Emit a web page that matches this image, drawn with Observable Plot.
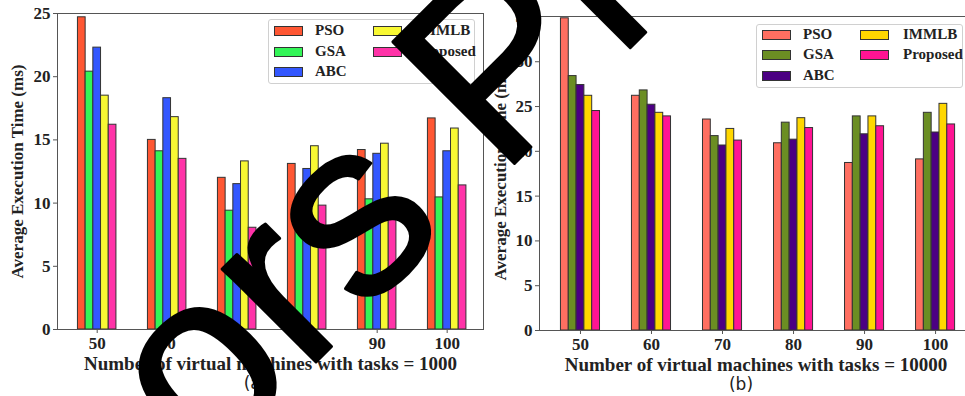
<!DOCTYPE html>
<html><head><meta charset="utf-8">
<script src="https://cdn.jsdelivr.net/npm/d3@7"></script>
<script src="https://cdn.jsdelivr.net/npm/@observablehq/plot@0.6"></script>
<style>
body{margin:0;background:#fff;}
#wrap{position:relative;width:965px;height:396px;overflow:hidden;font-family:"Liberation Serif","Times New Roman",serif;}
.panel{position:absolute;top:0;}
.legend{position:absolute;border:1px solid #d0d0d0;border-radius:3px;background:rgba(255,255,255,0.85);box-sizing:border-box;}
.sw{position:absolute;width:29px;height:10px;border:1px solid #333;box-sizing:border-box;}
.lt{position:absolute;font-weight:bold;font-size:15px;line-height:15px;color:#222;white-space:nowrap;}
#wm{position:absolute;left:0;top:0;pointer-events:none;}
</style>
</head><body>
<div id="wrap"></div>
<script>
// ---- data ----
const vms = [50, 60, 70, 80, 90, 100];
const algorithms = ["PSO", "GSA", "ABC", "IMMLB", "Proposed"];
// (a) tasks = 1000
const a_PSO = [24.7, 15.0, 12.0, 13.1, 14.2, 16.7];
const a_GSA = [20.4, 14.1, 9.4, 9.2, 10.3, 10.45];
const a_ABC = [22.3, 18.3, 11.5, 12.7, 13.9, 14.1];
const a_IMMLB = [18.5, 16.8, 13.3, 14.5, 14.7, 15.9];
const a_Proposed = [16.2, 13.5, 8.05, 9.8, 10.15, 11.4];
// (b) tasks = 10000
const b_PSO = [34.85, 26.2, 23.55, 20.9, 18.7, 19.1];
const b_GSA = [28.4, 26.8, 21.7, 23.2, 23.9, 24.3];
const b_ABC = [27.4, 25.2, 20.65, 21.3, 21.9, 22.1];
const b_IMMLB = [26.2, 24.3, 22.5, 23.7, 23.9, 25.3];
const b_Proposed = [24.5, 23.9, 21.2, 22.6, 22.8, 23.0];
const colorsA = ["#FF5733", "#33F557", "#3357FF", "#F8F833", "#FF33A8"];
const colorsB = ["#FF6F61", "#6B8E23", "#4B0082", "#FFD700", "#FF1493"];
const yTicksA = [0, 5, 10, 15, 20, 25];
const yTicksB = [0, 5, 10, 15, 20, 25, 30, 35];
const yTitle = "Average Execution Time (ms)";
const xTitleA = "Number of virtual machines with tasks = 1000";
const xTitleB = "Number of virtual machines with tasks = 10000";
const capA = "(a)", capB = "(b)";
const watermark = "Authors Preprint";

const wrap = document.getElementById("wrap");
const barW = 1.1;

function panel(series, colors, cfg) {
  const rows = [];
  vms.forEach((v, i) => algorithms.forEach((alg, j) => rows.push({vm: v, alg, j, value: series[j][i]})));
  const chart = Plot.plot({
    width: cfg.width, height: 396,
    marginLeft: cfg.ml, marginRight: cfg.mr, marginTop: cfg.mt, marginBottom: 396 - cfg.bottom,
    x: {domain: cfg.xdom, label: null},
    y: {domain: cfg.ydom, label: null},
    color: {domain: algorithms, range: colors},
    style: {fontFamily: '"Liberation Serif","Times New Roman",serif', fontWeight: "bold", fontSize: "17px", color: "#222", background: "transparent", overflow: "visible"},
    marks: [
      Plot.rect(rows, {x1: d => d.vm + (d.j - 2.5) * barW, x2: d => d.vm + (d.j - 1.5) * barW, y1: d => 0, y2: "value", fill: "alg", stroke: "#333", strokeWidth: 1}),
      Plot.frame({stroke: "#555"}),
      Plot.axisX({ticks: vms, tickFormat: d => String(d), tickSize: 4, tickPadding: 3, stroke: "#555"}),
      Plot.axisY({ticks: cfg.yticks, tickFormat: d => String(d), tickSize: 4, tickPadding: 3, stroke: "#555"}),
      Plot.text([cfg.xTitle], {frameAnchor: "bottom", textAnchor: "middle", lineAnchor: "middle", dy: 34, fontSize: 19, fill: "#222"}),
      Plot.text([yTitle], {frameAnchor: "left", textAnchor: "middle", lineAnchor: "middle", rotate: -90, dx: cfg.ytdx, fontSize: 17, fill: "#222"}),
      Plot.text([cfg.cap], {frameAnchor: "bottom", textAnchor: "middle", lineAnchor: "middle", dy: 54, dx: -15, fontSize: 17, fontWeight: "normal", fontFamily: '"DejaVu Sans",sans-serif', fill: "#222"})
    ]
  });
  chart.classList.add("panel");
  chart.style.left = cfg.left + "px";
  wrap.appendChild(chart);
}

panel([a_PSO, a_GSA, a_ABC, a_IMMLB, a_Proposed], colorsA,
  {left: 0, width: 490, ml: 57, mr: 7, mt: 13, bottom: 329, xdom: [44.33, 105.19], ydom: [0, 25], yticks: yTicksA, xTitle: xTitleA, cap: capA, ytdx: -40});
panel([b_PSO, b_GSA, b_ABC, b_IMMLB, b_Proposed], colorsB,
  {left: 480, width: 500, ml: 59, mr: 8, mt: 16, bottom: 330, xdom: [44.23, 105.2], ydom: [0, 35.05], yticks: yTicksB, xTitle: xTitleB, cap: capB, ytdx: -39});

function legend(colors, box, pos) {
  const lg = document.createElement("div");
  lg.className = "legend";
  Object.assign(lg.style, {left: box[0] + "px", top: box[1] + "px", width: box[2] + "px", height: box[3] + "px"});
  algorithms.forEach((alg, k) => {
    const col = k < 3 ? 0 : 1, row = k < 3 ? k : k - 3;
    const sw = document.createElement("div");
    sw.className = "sw";
    sw.style.background = colors[k];
    sw.style.left = pos.sw[col] + "px";
    sw.style.top = (pos.rows[row] - 5) + "px";
    const t = document.createElement("div");
    t.className = "lt";
    t.textContent = alg;
    t.style.left = pos.tx[col] + "px";
    t.style.top = (pos.rows[row] - 8) + "px";
    lg.appendChild(sw); lg.appendChild(t);
  });
  wrap.appendChild(lg);
}
legend(colorsA, [268, 19, 207, 65], {sw: [5, 104], tx: [46, 147], rows: [11, 31.5, 52]});
legend(colorsB, [756, 24, 207, 64], {sw: [5, 103], tx: [46, 146], rows: [10, 30, 51]});

// watermark overlay
const NS = "http://www.w3.org/2000/svg";
const wm = document.createElementNS(NS, "svg");
wm.setAttribute("id", "wm"); wm.setAttribute("width", 965); wm.setAttribute("height", 396);
const t = document.createElementNS(NS, "text");
t.setAttribute("font-family", '"Liberation Sans",Arial,sans-serif');
t.setAttribute("font-size", 250);
t.setAttribute("fill", "#000");
t.setAttribute("stroke", "#000");
t.setAttribute("stroke-width", 3);
t.setAttribute("stroke-linejoin", "round");
t.textContent = watermark;
wm.appendChild(t);
wrap.appendChild(wm);
const p = t.getStartPositionOfChar(watermark.indexOf("P"));
t.setAttribute("transform", `translate(500,178) rotate(-45) translate(${-p.x},0)`);
</script>
</body></html>
